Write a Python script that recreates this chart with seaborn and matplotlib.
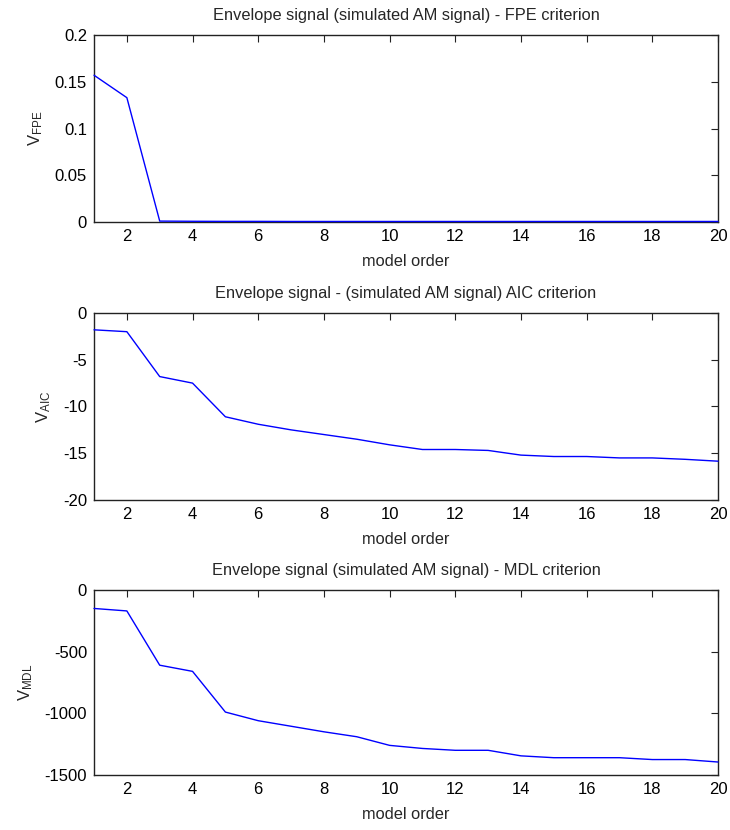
import matplotlib
matplotlib.use("Agg")
import matplotlib.pyplot as plt
import seaborn as sns
import pandas as pd
from matplotlib import font_manager
from matplotlib.ticker import FuncFormatter

order = list(range(1, 21))
fpe = [0.157, 0.133, 0.001, 0.0008, 0.0007, 0.0007, 0.0006, 0.0006, 0.0006, 0.0006,
       0.0006, 0.0006, 0.0006, 0.0006, 0.0006, 0.0006, 0.0006, 0.0006, 0.0006, 0.0006]
aic = [-1.8, -2.0, -6.8, -7.5, -11.1, -11.9, -12.5, -13.0, -13.5, -14.1,
       -14.6, -14.6, -14.7, -15.2, -15.35, -15.35, -15.5, -15.5, -15.65, -15.85]
mdl = [-150, -170, -610, -660, -990, -1060, -1105, -1150, -1190, -1260,
       -1285, -1300, -1300, -1345, -1360, -1360, -1360, -1375, -1375, -1395]

titles = ["Envelope signal (simulated AM signal) - FPE criterion",
          "Envelope signal - (simulated AM signal) AIC criterion",
          "Envelope signal (simulated AM signal) - MDL criterion"]
ylabels = [r"V$_{\mathrm{FPE}}$", r"V$_{\mathrm{AIC}}$", r"V$_{\mathrm{MDL}}$"]
xlabel = "model order"
ylims = [(0, 0.2), (-20, 0), (-1500, 0)]
yticks = [[0, 0.05, 0.1, 0.15, 0.2], [-20, -15, -10, -5, 0], [-1500, -1000, -500, 0]]
xticks = list(range(2, 21, 2))

sns.set_style("white")

names = {f.name for f in font_manager.fontManager.ttflist}
narrow = None
for cand in ["Liberation Sans Narrow", "DejaVu Sans Condensed"]:
    if cand in names:
        narrow = cand
        break
main = narrow if narrow else "Liberation Sans"
plt.rcParams["font.family"] = [main, "DejaVu Sans"]
plt.rcParams["mathtext.fontset"] = "custom"
plt.rcParams["mathtext.rm"] = main
plt.rcParams["mathtext.default"] = "regular"
plt.rcParams["axes.unicode_minus"] = False

scale = 1.15 if narrow else 1.0
tsize = 11.8 * scale
ticksize = 12.0 * scale

fig = plt.figure(figsize=(7.3, 8.3), dpi=100)
boxes = [(0.1288, 0.7325, 0.8548, 0.2253),
         (0.1288, 0.3976, 0.8548, 0.2253),
         (0.1288, 0.0663, 0.8548, 0.2229)]

for i, vals in enumerate([fpe, aic, mdl]):
    ax = fig.add_axes(boxes[i])
    df = pd.DataFrame({"order": order, "v": vals})
    sns.lineplot(data=df, x="order", y="v", ax=ax, color="#0000ff", linewidth=1.0,
                 zorder=3, clip_on=False)
    ax.set_xlim(1, 20)
    ax.set_ylim(*ylims[i])
    ax.set_xticks(xticks)
    ax.set_yticks(yticks[i])
    ax.yaxis.set_major_formatter(FuncFormatter(lambda v, p: ("%g" % v)))
    ax.tick_params(direction="in", length=5, width=0.8, top=True, right=True,
                   labelsize=ticksize, colors="#222222", pad=5)
    for lab in ax.get_xticklabels() + ax.get_yticklabels():
        lab.set_color("black")
    for s in ax.spines.values():
        s.set_color("#222222")
        s.set_linewidth(1.0)
    ax.set_title(titles[i], fontsize=tsize, pad=11)
    ax.set_xlabel(xlabel, fontsize=tsize, labelpad=7)
    ax.set_ylabel(ylabels[i], fontsize=ticksize, labelpad=7)

fig.savefig("out.png", dpi=100)
